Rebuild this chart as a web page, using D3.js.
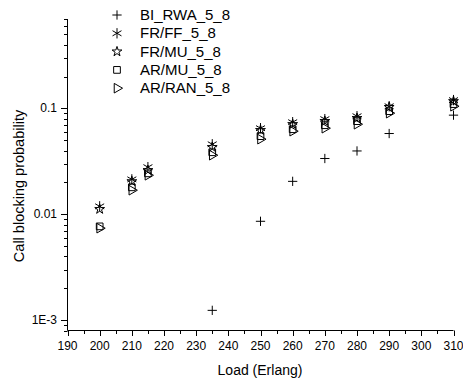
<!DOCTYPE html>
<html>
<head>
<meta charset="utf-8">
<script src="https://cdn.jsdelivr.net/npm/d3@7"></script>
<style>
body { margin: 0; background: #fff; }
text { font-family: "Liberation Sans", Arial, sans-serif; fill: #000; }
</style>
</head>
<body>
<div id="chart"></div>
<script>
var width = 463;
var height = 379;

// load values (Erlang)
var loads = [200, 210, 215, 235, 250, 260, 270, 280, 290, 310];

// blocking probability per scheme (null = not plotted)
var biRwa = [null, null, null, 0.00124, 0.0086, 0.0205, 0.0337, 0.0397, 0.058, 0.0865];
var frFf  = [0.0119, 0.0214, 0.0279, 0.0459, 0.0651, 0.0742, 0.0793, 0.0845, 0.105, 0.120];
var frMu  = [0.0112, 0.0205, 0.0261, 0.0431, 0.0624, 0.0710, 0.0759, 0.0810, 0.103, 0.117];
var arMu  = [0.0077, 0.0180, 0.0244, 0.0386, 0.0548, 0.0637, 0.0695, 0.0759, 0.0943, 0.110];
var arRan = [0.0074, 0.0169, 0.0234, 0.0362, 0.0513, 0.0610, 0.0651, 0.0710, 0.0903, 0.105];

var seriesNames = ["BI_RWA_5_8", "FR/FF_5_8", "FR/MU_5_8", "AR/MU_5_8", "AR/RAN_5_8"];
var seriesValues = [biRwa, frFf, frMu, arMu, arRan];

var xTicks = [190, 200, 210, 220, 230, 240, 250, 260, 270, 280, 290, 300, 310];
var yTicks = [0.001, 0.01, 0.1];
var yTickLabels = ["1E-3", "0.01", "0.1"];

var svg = d3.select("#chart")
            .append("svg")
            .attr("width", width)
            .attr("height", height);

var x = d3.scaleLinear().domain([190, 310]).range([67.5, 453.5]);
var y = d3.scaleLog().domain([0.0008, 0.7]).range([330.5, 19]);

// x axis
var xMinor = d3.range(190, 311, 5);
svg.append("line")
   .attr("x1", 67.5).attr("x2", 453.5)
   .attr("y1", 330.5).attr("y2", 330.5)
   .attr("stroke", "#000");

svg.selectAll(".xtick")
   .data(xMinor)
   .enter().append("line")
   .attr("x1", function(d) { return Math.round(x(d)) + 0.5; })
   .attr("x2", function(d) { return Math.round(x(d)) + 0.5; })
   .attr("y1", 330.5)
   .attr("y2", function(d) { return d % 10 == 0 ? 336 : 334; })
   .attr("stroke", "#000");

svg.selectAll(".xlabel")
   .data(xTicks)
   .enter().append("text")
   .attr("x", function(d) { return x(d); })
   .attr("y", 350)
   .attr("text-anchor", "middle")
   .style("font-size", "12px")
   .text(function(d) { return d; });

svg.append("text")
   .attr("x", 260)
   .attr("y", 375)
   .attr("text-anchor", "middle")
   .style("font-size", "14px")
   .text("Load (Erlang)");

// y axis (log)
svg.append("line")
   .attr("x1", 67.5).attr("x2", 67.5)
   .attr("y1", 19).attr("y2", 330.5)
   .attr("stroke", "#000");

var yMinor = y.ticks().filter(function(d) { return d >= 0.0008 && d <= 0.7; });
svg.selectAll(".ytick")
   .data(yMinor)
   .enter().append("line")
   .attr("x1", function(d) { return yTicks.indexOf(d) >= 0 ? 61 : 64; })
   .attr("x2", 67.5)
   .attr("y1", function(d) { return Math.round(y(d)) + 0.5; })
   .attr("y2", function(d) { return Math.round(y(d)) + 0.5; })
   .attr("stroke", "#000");

svg.selectAll(".ylabel")
   .data(yTicks)
   .enter().append("text")
   .attr("x", 57)
   .attr("y", function(d) { return y(d) + 4; })
   .attr("text-anchor", "end")
   .style("font-size", "12px")
   .text(function(d, i) { return yTickLabels[i]; });

svg.append("text")
   .attr("transform", "translate(24,186) rotate(-90)")
   .attr("text-anchor", "middle")
   .style("font-size", "14.5px")
   .text("Call blocking probability");

// symbols
var symbolTypes = [d3.symbolPlus, d3.symbolAsterisk, d3.symbolStar, d3.symbolSquare, d3.symbolTriangle];
var symbolSizes = [30, 75, 30, 45, 40];
var symbolRotate = [0, 0, 0, 0, 90];

seriesValues.forEach(function(values, s) {
    var pts = loads.map(function(l, i) { return {x: l, v: values[i]}; })
                   .filter(function(p) { return p.v != null; });
    var sym = d3.symbol().type(symbolTypes[s]).size(symbolSizes[s]);
    svg.selectAll(".s" + s)
       .data(pts)
       .enter().append("path")
       .attr("d", sym)
       .attr("fill", "none")
       .attr("stroke", "#000")
       .attr("stroke-width", 1)
       .attr("transform", function(p) {
           return "translate(" + x(p.x) + "," + y(p.v) + ") rotate(" + symbolRotate[s] + ")";
       });
});

// legend
seriesNames.forEach(function(name, i) {
    var ly = 15 + i * 18.3;
    svg.append("path")
       .attr("d", d3.symbol().type(symbolTypes[i]).size(symbolSizes[i]))
       .attr("fill", "none")
       .attr("stroke", "#000")
       .attr("transform", "translate(117," + ly + ") rotate(" + symbolRotate[i] + ")");
    svg.append("text")
       .attr("x", 140)
       .attr("y", ly + 5)
       .style("font-size", "15px")
       .text(name);
});
</script>
</body>
</html>
